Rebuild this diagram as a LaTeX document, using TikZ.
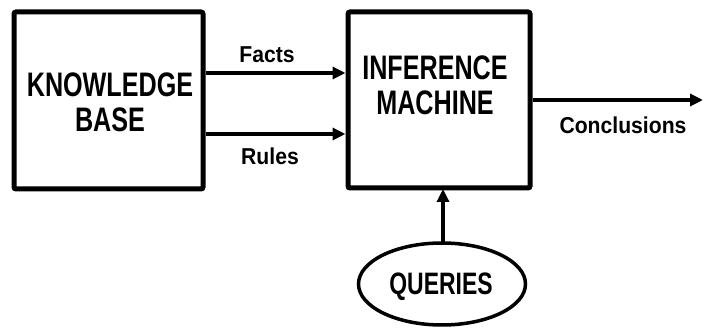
\documentclass[tikz,border=0pt]{standalone}
\usepackage{fontspec}
\setmainfont{Liberation Sans}
\newfontfamily\handbig[FakeStretch=0.74]{Liberation Sans}
\newfontfamily\handsmall[FakeStretch=0.92]{Liberation Sans}
\usetikzlibrary{arrows.meta,shapes.geometric}
\tikzset{
  blockbox/.style={draw, line width=5pt, rounded corners=2pt, inner sep=0pt},
  bigtext/.style={font=\handbig\bfseries\fontsize{34}{40}\selectfont, inner sep=0pt},
  smalltext/.style={font=\handsmall\bfseries\fontsize{23}{28}\selectfont, inner sep=0pt},
  flow/.style={line width=3.5pt, -{Triangle[length=13pt,width=12pt]}},
  queryshape/.style={draw, ellipse, line width=3.5pt, minimum width=167pt, minimum height=82pt, inner sep=0pt},
}
\begin{document}
\begin{tikzpicture}[x=1pt,y=-1pt]
\useasboundingbox (0,0) rectangle (704,328);
% boxes
\node[blockbox, minimum width=189pt, minimum height=177pt] (kb) at (108.5,100.5) {};
\node[blockbox, minimum width=182pt, minimum height=176pt] (im) at (439,100) {};
\node[queryshape] (q) at (442,284) {};
% texts
\node[bigtext] (kb1) at (110,85) {KNOWLEDGE};
\node[bigtext] (kb2) at (110,120) {BASE};
\node[bigtext] (im1) at (435,68) {INFERENCE};
\node[bigtext] (im2) at (435,103) {MACHINE};
\node[bigtext, font=\handbig\bfseries\fontsize{31}{36}\selectfont] (qt) at (441,287) {QUERIES};
% connector endpoints
\coordinate (f0) at (kb.east |- 0,73);
\coordinate (f1) at (im.west |- 0,73);
\coordinate (r0) at (kb.east |- 0,134);
\coordinate (r1) at (im.west |- 0,134);
\coordinate (c0) at (im.east |- 0,100);
\coordinate (c1) at (703,100);
\coordinate (q1) at (443,189);
\coordinate (q0) at (443,243);
\draw[flow] (f0) -- (f1);
\draw[flow] (r0) -- (r1);
\draw[flow] (c0) -- (c1);
\draw[flow] (q0) -- (q1);
% labels
\node[smalltext] (lf) at (267,55) {Facts};
\node[smalltext] (lr) at (270,156) {Rules};
\node[smalltext] (lc) at (623,125) {Conclusions};
\end{tikzpicture}
\end{document}
